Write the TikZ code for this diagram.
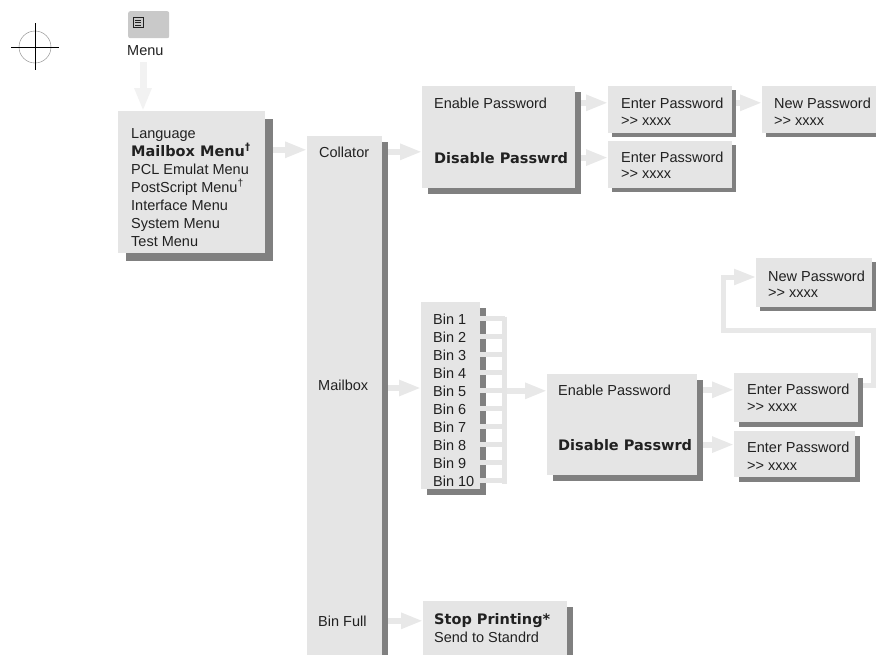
\documentclass[tikz,border=0pt]{standalone}
\usepackage{fontspec}
\setmainfont{Liberation Sans}
\newfontfamily\heavyfont{DejaVu Sans}
\usetikzlibrary{arrows.meta,shadows,backgrounds}
\definecolor{boxgray}{gray}{0.90}
\definecolor{shadegray}{gray}{0.50}
\definecolor{arrowgray}{gray}{0.91}
\definecolor{palegray}{gray}{0.95}
\definecolor{btngray}{gray}{0.79}
\definecolor{inkgray}{gray}{0.13}
\begin{document}
\begin{tikzpicture}[x=1pt, y=-1pt,
	box/.style={fill=boxgray, inner sep=0pt, anchor=north west,
		drop shadow={shadow xshift=#1, shadow yshift=-#1, fill=shadegray, opacity=1}},
	box/.default=5pt,
	txt/.style={anchor=base west, inner sep=0pt, text=inkgray, font=\fontsize{14.5}{18}\selectfont},
	hot/.style={txt, font=\fontsize{14.5}{18}\heavyfont\bfseries},
	fat/.style={draw=arrowgray, line width=6pt, -{Triangle[length=22pt, width=15pt]}},
	comb/.style={draw=boxgray, line width=5pt}]
		\useasboundingbox (0,0) rectangle (876,654);
		% crop mark
		\draw[gray] (35,47) circle[radius=16pt];
		\draw[black, line width=0.8pt] (11,47) -- (59,47);
		\draw[black, line width=0.8pt] (35,23) -- (35,70);
		% menu key
		\node[fill=btngray, rounded corners=2pt, anchor=north west, inner sep=0pt, minimum width=41pt, minimum height=27pt] (menubtn) at (128,11) {};
		\draw[inkgray, line width=0.9pt] (133,17) rectangle (143,27);
		\draw[inkgray, line width=0.8pt] (135,20) -- (141,20);
		\draw[inkgray, line width=0.8pt] (135,22.5) -- (141,22.5);
		\draw[inkgray, line width=0.8pt] (135,25) -- (141,25);
		\node[txt] (menulabel) at (127,55) {Menu};
		\coordinate (menufoot) at (143,62);
		% boxes
		\node[box=8pt, minimum width=147pt, minimum height=142pt] (mainbox) at (118,111) {};
		\node[box=6pt, minimum width=75pt, minimum height=530pt] (colbox) at (307,136) {};
		\node[box=6pt, minimum width=153pt, minimum height=102pt] (pwcol) at (422,86) {};
		\node[box=4pt, minimum width=124pt, minimum height=47pt] (epcol1) at (608,86) {};
		\node[box=4pt, minimum width=124pt, minimum height=47pt] (epcol2) at (608,141) {};
		\node[box=4pt, minimum width=120pt, minimum height=47pt] (newcol) at (762,86) {};
		\node[box=6pt, minimum width=59pt, minimum height=187pt] (binbox) at (421,302) {};
		\node[box=6pt, minimum width=150pt, minimum height=101pt] (pwbin) at (547,374) {};
		\node[box=5pt, minimum width=124pt, minimum height=49pt] (epbin1) at (734,373) {};
		\node[box=5pt, minimum width=121pt, minimum height=46pt] (epbin2) at (734,431) {};
		\node[box=4pt, minimum width=116pt, minimum height=49pt] (newbin) at (756,258) {};
		\node[box=6pt, minimum width=144pt, minimum height=56pt] (stopbox) at (423,601) {};
		% main menu
		\node[txt] (language) at (131,138) {Language};
		\node[hot] (mailitem) at (131,156) {Mailbox Menu\textsuperscript{†}};
		\node[txt] (pclitem) at (131,174) {PCL Emulat Menu};
		\node[txt] (psitem) at (131,192) {PostScript Menu\textsuperscript{†}};
		\node[txt] (ifitem) at (131,210) {Interface Menu};
		\node[txt] (sysitem) at (131,228) {System Menu};
		\node[txt] (testitem) at (131,246) {Test Menu};
		% mailbox menu
		\node[txt] (collator) at (319,157) {Collator};
		\node[txt] (mailbox) at (318,390) {Mailbox};
		\node[txt] (binfull) at (318,626) {Bin Full};
		% collator
		\node[txt] (enablecol) at (434,108) {Enable Password};
		\node[hot] (disablecol) at (434,163) {Disable Passwrd};
		\node[txt] at (621,108) {Enter Password};
		\node[txt] at (621,125) {>{}> xxxx};
		\node[txt] at (621,162) {Enter Password};
		\node[txt] at (621,178) {>{}> xxxx};
		\node[txt] at (774,108) {New Password};
		\node[txt] at (774,125) {>{}> xxxx};
		% bins
		\node[txt] (bin1) at (433,324) {Bin 1};
		\node[txt] (bin2) at (433,342) {Bin 2};
		\node[txt] (bin3) at (433,360) {Bin 3};
		\node[txt] (bin4) at (433,378) {Bin 4};
		\node[txt] (bin5) at (433,396) {Bin 5};
		\node[txt] (bin6) at (433,414) {Bin 6};
		\node[txt] (bin7) at (433,432) {Bin 7};
		\node[txt] (bin8) at (433,450) {Bin 8};
		\node[txt] (bin9) at (433,468) {Bin 9};
		\node[txt] (bin10) at (433,486) {Bin 10};
		\coordinate (bintop) at (504.5,316.5);
		\coordinate (binbot) at (504.5,483.5);
		\draw[comb] (binbox.east |- bin1) -- (bintop |- bin1);
		\draw[comb] (binbox.east |- bin2) -- (bintop |- bin2);
		\draw[comb] (binbox.east |- bin3) -- (bintop |- bin3);
		\draw[comb] (binbox.east |- bin4) -- (bintop |- bin4);
		\draw[comb] (binbox.east |- bin5) -- (bintop |- bin5);
		\draw[comb] (binbox.east |- bin6) -- (bintop |- bin6);
		\draw[comb] (binbox.east |- bin7) -- (bintop |- bin7);
		\draw[comb] (binbox.east |- bin8) -- (bintop |- bin8);
		\draw[comb] (binbox.east |- bin9) -- (bintop |- bin9);
		\draw[comb] (binbox.east |- bin10) -- (bintop |- bin10);
		\draw[comb] (bintop) -- (binbot);
		% mailbox passwords
		\node[txt] (enablebin) at (558,395) {Enable Password};
		\node[hot] (disablebin) at (558,450) {Disable Passwrd};
		\node[txt] at (747,394) {Enter Password};
		\node[txt] at (747,411) {>{}> xxxx};
		\node[txt] at (747,452) {Enter Password};
		\node[txt] at (747,470) {>{}> xxxx};
		\node[txt] at (768,281) {New Password};
		\node[txt] at (768,297) {>{}> xxxx};
		\coordinate (loopright) at (873.5,330);
		\coordinate (loopleft) at (723.5,277);
		% bin full
		\node[hot] (stopitem) at (434,624) {Stop Printing*};
		\node[txt] (senditem) at (434,642) {Send to Standrd};
		% arrows
		\begin{scope}[on background layer]
			\draw[fat, draw=palegray, line width=7pt, -{Triangle[length=23pt, width=16pt]}] (menufoot) -- (menufoot |- mainbox.north);
			\draw[fat] (mainbox.east |- mailitem) -- (colbox.west |- mailitem);
			\draw[fat] (colbox.east |- collator) -- (pwcol.west |- collator);
			\draw[fat] (pwcol.east |- enablecol) -- (epcol1.west |- enablecol);
			\draw[fat] (pwcol.east |- disablecol) -- (epcol2.west |- disablecol);
			\draw[fat] (epcol1.east |- enablecol) -- (newcol.west |- enablecol);
			\draw[fat] (colbox.east |- 0,388) -- (binbox.west |- 0,388);
			\draw[fat] (bintop |- bin5) -- (pwbin.west |- bin5);
			\draw[fat] (pwbin.east |- enablebin) -- (epbin1.west |- enablebin);
			\draw[fat] (pwbin.east |- disablebin) -- (epbin2.west |- disablebin);
			\draw[fat, line width=5pt, line join=miter] (epbin1.east |- 0,385.5) -| (loopright) -| (loopleft) -- (newbin.west |- loopleft);
			\draw[fat] (colbox.east |- binfull) -- (stopbox.west |- binfull);
		\end{scope}
	\end{tikzpicture}
\end{document}
